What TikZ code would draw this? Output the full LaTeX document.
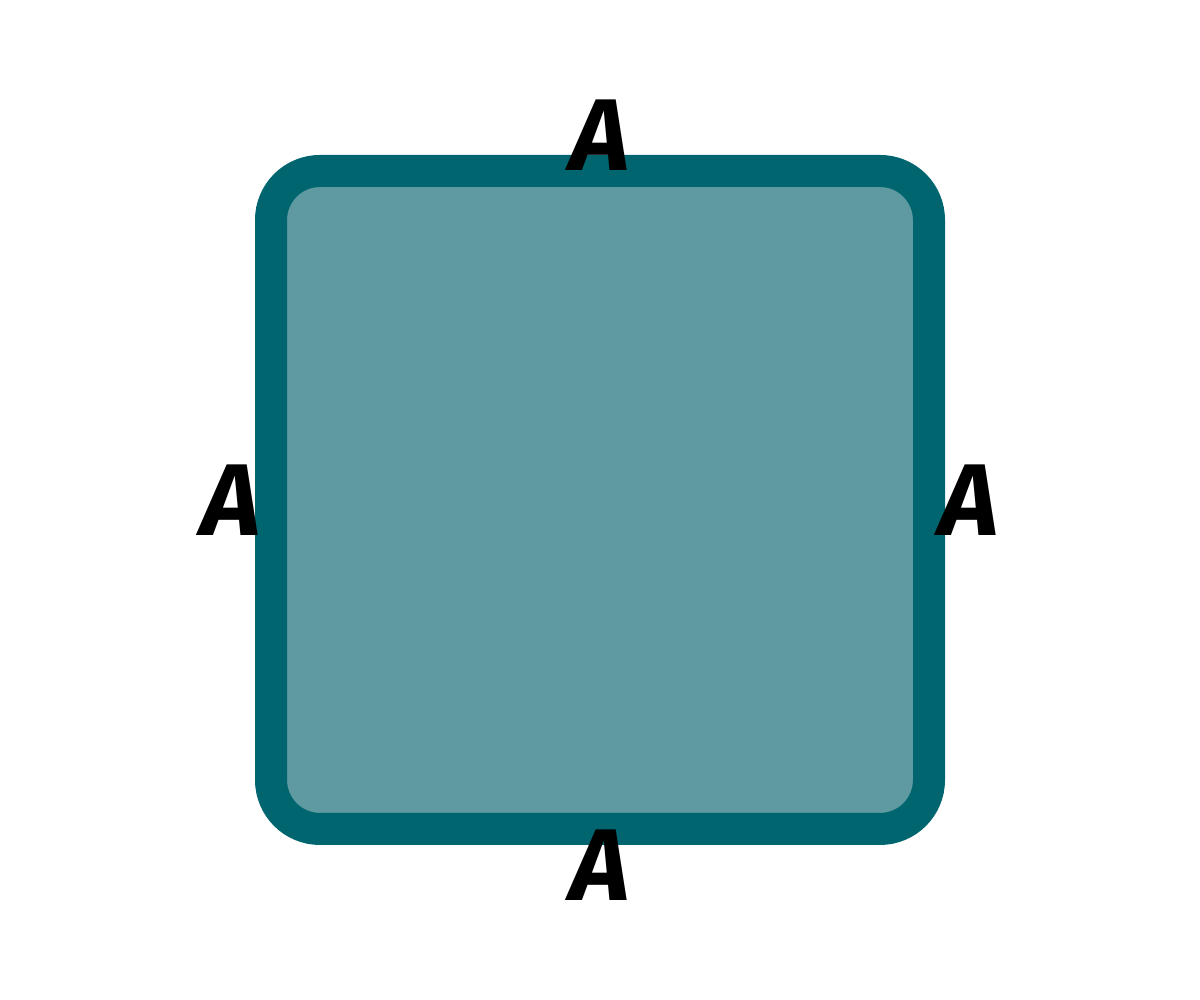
\documentclass[tikz,border=0pt]{standalone}
\usepackage{fontspec}
\setsansfont{Fira Sans}
\usepackage{tikz}
\definecolor{tealedge}{HTML}{00656E}
\definecolor{tealfill}{HTML}{5E9AA0}
\tikzset{
  sidelabel/.style={inner sep=0pt, font=\sffamily\bfseries\itshape\fontsize{29}{29}\selectfont}
}
\begin{document}
\begin{tikzpicture}
			\useasboundingbox (0,0) rectangle (12,10);
			\node [draw=tealedge, fill=tealfill, line width=0.32cm, rounded corners=0.49cm,
			       minimum width=6.58cm, minimum height=6.58cm, outer sep=0pt] (sq) at (6,5) {};
			
			\node [sidelabel, anchor=south] (atop) at (sq.north) {A};
			\node [sidelabel, anchor=east, xshift=-0.1cm] (aleft) at (sq.west) {A};
			\node [sidelabel, anchor=west, xshift=0.1cm] (aright) at (sq.east) {A};
			\node [sidelabel, anchor=north] (abottom) at (sq.south) {A};
		\end{tikzpicture}
\end{document}
